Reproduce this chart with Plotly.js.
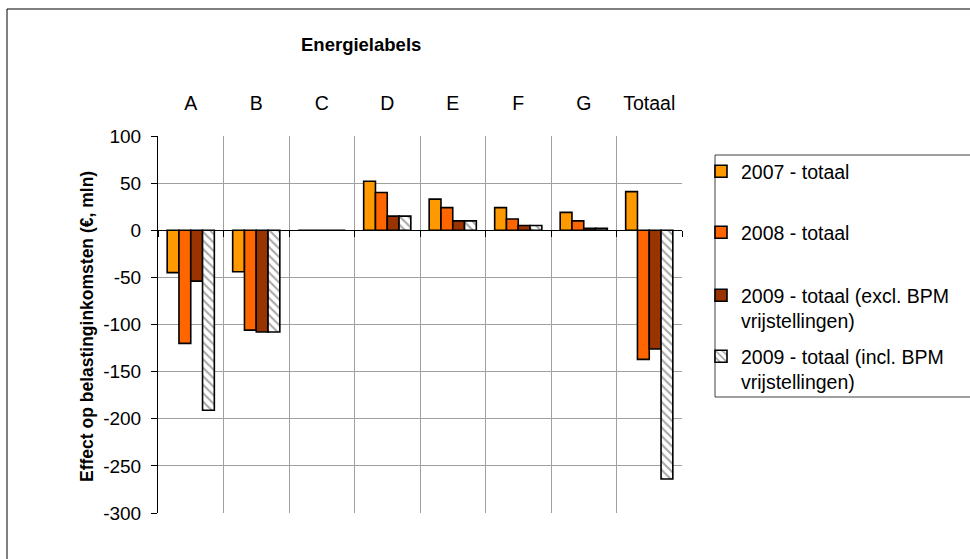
<!DOCTYPE html>
<html>
<head>
<meta charset="utf-8">
<script src="https://cdn.plot.ly/plotly-3.0.1.min.js"></script>
<style>html,body{margin:0;padding:0;background:#fff;}#chart{width:970px;height:559px;}</style>
</head>
<body>
<div id="chart"></div>
<script>
// ---- data ----
const categories = ['A', 'B', 'C', 'D', 'E', 'F', 'G', 'Totaal'];
const seriesNames = [
  '2007 - totaal',
  '2008 - totaal',
  '2009 - totaal (excl. BPM<br>vrijstellingen)',
  '2009 - totaal (incl. BPM<br>vrijstellingen)'
];
const v2007 = [-45, -44, 0, 52, 33, 24, 19, 41];
const v2008 = [-120, -106, 0, 40, 24, 12, 10, -137];
const v2009excl = [-54, -108, 0, 15, 10, 5, 2, -126];
const v2009incl = [-191, -108, 0, 15, 10, 5, 2, -264];
const yTicks = [-300, -250, -200, -150, -100, -50, 0, 50, 100];
const yTickText = ['-300', '-250', '-200', '-150', '-100', '-50', '0', '50', '100'];

// ---- layout helpers (pixel -> paper) ----
const W = 970, H = 559;
const L = 158, R = 682, T = 136, B = 513;
const px = x => (x - L) / (R - L);
const py = y => (B - y) / (B - T);
const FONT = 'Liberation Sans, Arial, sans-serif';

const outline = {color: '#000000', width: 1.6};
const traces = [
  {type: 'bar', name: seriesNames[0], x: categories, y: v2007,
   marker: {color: '#FF9900', line: outline}, legend: 'legend'},
  {type: 'bar', name: seriesNames[1], x: categories, y: v2008,
   marker: {color: '#FF6600', line: outline}, legend: 'legend2'},
  {type: 'bar', name: seriesNames[2], x: categories, y: v2009excl,
   marker: {color: '#993300', line: outline}, legend: 'legend3'},
  {type: 'bar', name: seriesNames[3], x: categories, y: v2009incl,
   marker: {color: '#FFFFFF', line: outline,
            pattern: {shape: '\\', fgcolor: '#a8a8a8', bgcolor: '#FFFFFF', size: 6, solidity: 0.35}},
   legend: 'legend4'},
  // helper trace to host the tick marks on the zero line
  {type: 'scatter', x: [], y: [], xaxis: 'x2', showlegend: false, hoverinfo: 'skip'}
];

const boundaries = categories.map((c, i) => i - 0.5).concat([categories.length - 0.5]);

function legendAt(yPx) {
  return {x: px(701), y: py(yPx), xanchor: 'left', yanchor: 'top',
          bgcolor: 'rgba(0,0,0,0)', borderwidth: 0, valign: 'top',
          font: {family: FONT, size: 19.5, color: '#000'}};
}

const layout = {
  width: W, height: H,
  margin: {l: L, r: W - R, t: T, b: H - B, pad: 0},
  paper_bgcolor: '#fff', plot_bgcolor: '#fff',
  font: {family: FONT, color: '#000'},
  barmode: 'group', bargap: 0.28, bargroupgap: 0,
  showlegend: true,
  xaxis: {
    type: 'category', side: 'top', tickson: 'boundaries', ticks: '',
    showgrid: true, gridcolor: '#a0a0a0', gridwidth: 1,
    tickfont: {family: FONT, size: 19.5, color: '#000'},
    ticklabelstandoff: 21, showline: false, zeroline: false, fixedrange: true
  },
  xaxis2: {
    overlaying: 'x', anchor: 'free', position: 0.75, side: 'bottom',
    type: 'linear', range: [-0.5, categories.length - 0.5],
    tickmode: 'array', tickvals: boundaries, ticks: 'outside', ticklen: 6,
    tickcolor: '#000', tickwidth: 1, showticklabels: false,
    showgrid: false, zeroline: false, showline: false
  },
  yaxis: {
    range: [-300, 100], tickmode: 'array', tickvals: yTicks, ticktext: yTickText,
    showline: true, linecolor: '#000', linewidth: 1,
    ticks: 'outside', ticklen: 6, tickcolor: '#000',
    showgrid: true, gridcolor: '#a0a0a0', gridwidth: 1,
    zeroline: true, zerolinecolor: '#000', zerolinewidth: 1,
    tickfont: {family: FONT, size: 19, color: '#000'},
    ticklabelstandoff: 6
  },
  legend: legendAt(152),
  legend2: legendAt(213),
  legend3: legendAt(276),
  legend4: legendAt(337),
  annotations: [
    {text: '<b>Energielabels</b>', xref: 'paper', yref: 'paper',
     x: px(361), y: py(45), xanchor: 'center', yanchor: 'middle', showarrow: false,
     font: {family: FONT, size: 18.5, color: '#000'}},
    {text: '<b>Effect op belastinginkomsten (€, mln)</b>', xref: 'paper', yref: 'paper',
     x: px(87), y: py(327), xanchor: 'center', yanchor: 'middle', textangle: -90,
     showarrow: false, font: {family: FONT, size: 17.5, color: '#000'}}
  ],
  shapes: [
    {type: 'rect', xref: 'paper', yref: 'paper',
     x0: px(7), x1: px(990), y0: py(580), y1: py(9),
     line: {color: '#000', width: 1}, fillcolor: 'rgba(0,0,0,0)'},
    {type: 'rect', xref: 'paper', yref: 'paper',
     x0: px(715), x1: px(990), y0: py(397), y1: py(155),
     line: {color: '#404040', width: 1}, fillcolor: 'rgba(0,0,0,0)'}
  ]
};

Plotly.newPlot('chart', traces, layout, {staticPlot: true, displayModeBar: false});
</script>
</body>
</html>
